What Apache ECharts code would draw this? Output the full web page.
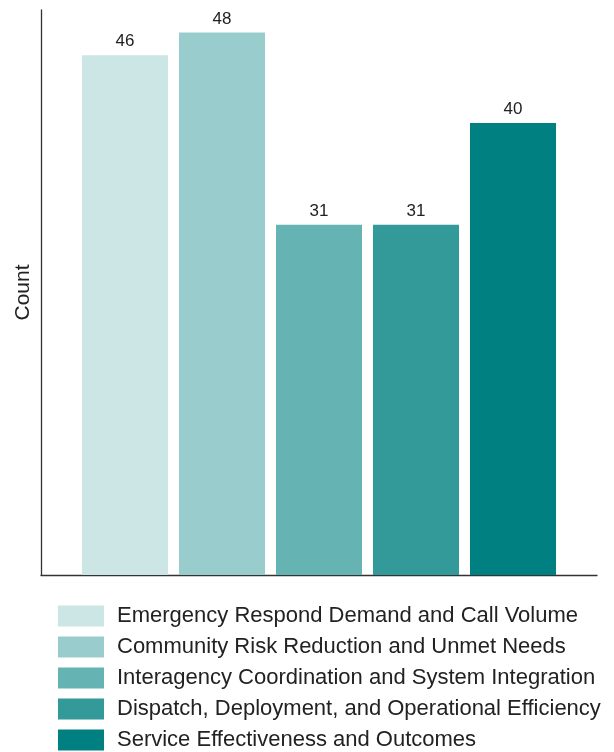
<!DOCTYPE html>
<html>
<head>
<meta charset="utf-8">
<script src="https://cdn.jsdelivr.net/npm/echarts@6/dist/echarts.min.js"></script>
<style>
  html, body { margin: 0; padding: 0; background: #fff; }
  #chartsDiv { width: 614px; height: 752px; }
</style>
</head>
<body>
<div id="chartsDiv"></div>
<script>
// data
var categories = [
  'Emergency Respond Demand and Call Volume',
  'Community Risk Reduction and Unmet Needs',
  'Interagency Coordination and System Integration',
  'Dispatch, Deployment, and Operational Efficiency',
  'Service Effectiveness and Outcomes'
]
var counts = [46, 48, 31, 31, 40]
var barColors = ['#cce6e6', '#99cccc', '#66b3b3', '#339999', '#008080']

var fontFamily = '"Liberation Sans", Arial, Helvetica, sans-serif'

var realChart = echarts.init(document.getElementById('chartsDiv'), null, {
  renderer: 'canvas'
})

// one series per category so each gets a legend entry
var series = categories.map(function(name, i) {
  return {
    name: name,
    type: 'bar',
    barWidth: 86,
    barGap: '-100%',
    itemStyle: { color: barColors[i] },
    label: {
      show: true,
      position: 'top',
      distance: 5,
      color: '#222',
      fontSize: 17,
      fontFamily: fontFamily
    },
    data: [[i, counts[i]]]
  }
})

var option = {
  animation: false,
  textStyle: { fontFamily: fontFamily },
  grid: {
    left: 41,
    right: 17,
    top: 10,
    bottom: 177,
    outerBoundsMode: 'none'
  },
  legend: {
    orient: 'vertical',
    left: 58,
    top: 605,
    height: 200,
    padding: 0,
    icon: 'rect',
    itemWidth: 46,
    itemHeight: 21,
    itemGap: 9,
    selectedMode: false,
    textStyle: {
      color: '#222',
      fontSize: 22,
      lineHeight: 22,
      padding: [0, 0, 0, 8],
      fontFamily: fontFamily
    },
    data: categories
  },
  xAxis: {
    type: 'value',
    min: -0.866,
    max: 4.866,
    axisLine: {
      show: true,
      onZero: false,
      lineStyle: { color: '#333', width: 1.3 }
    },
    axisTick: { show: false },
    axisLabel: { show: false },
    splitLine: { show: false }
  },
  yAxis: {
    type: 'value',
    min: 0,
    max: 50,
    name: 'Count',
    nameLocation: 'middle',
    nameGap: 7,
    nameTextStyle: {
      color: '#222',
      fontSize: 21,
      fontFamily: fontFamily
    },
    axisLine: {
      show: true,
      onZero: false,
      lineStyle: { color: '#333', width: 1.3 }
    },
    axisTick: { show: false },
    axisLabel: { show: false },
    splitLine: { show: false }
  },
  series: series
}

realChart.setOption(option)
</script>
</body>
</html>
